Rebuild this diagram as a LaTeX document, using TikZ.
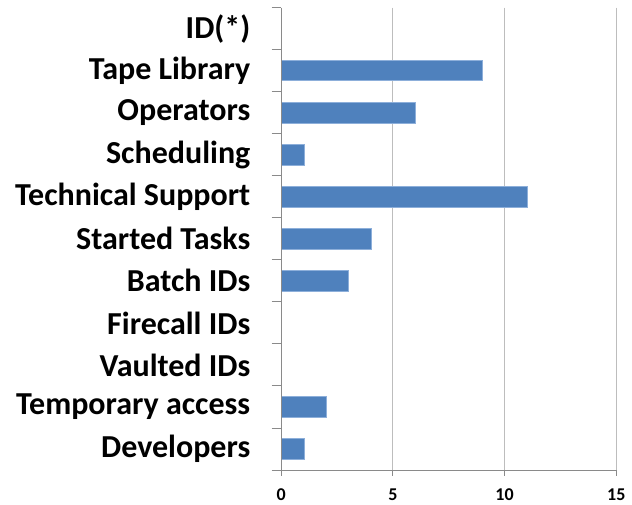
\documentclass[tikz,border=0pt]{standalone}
\usepackage{fontspec}
\setmainfont{Carlito}
\definecolor{barblue}{HTML}{4F81BD}
\definecolor{baredge}{HTML}{8DAFDA}
\definecolor{gridgray}{HTML}{BDBDBD}
\definecolor{axisgray}{HTML}{8A8A8A}
\tikzset{
  catlabel/.style={anchor=east, inner sep=0pt, font=\bfseries\fontsize{32}{32}\selectfont},
  numlabel/.style={anchor=center, inner sep=0pt, font=\bfseries\fontsize{18}{18}\selectfont},
  bar/.style={fill=barblue, draw=baredge, line width=0.8pt},
  gridline/.style={draw=gridgray, line width=1pt},
  axisline/.style={draw=axisgray, line width=1pt}
}
\begin{document}
\begin{tikzpicture}[x=1pt,y=-1pt]
\useasboundingbox (0,0) rectangle (632,504);
% gridlines
\foreach \v in {5,10,15}{
  \draw[gridline] ({281.3+\v*22.33},7.7) -- ({281.3+\v*22.33},470);
}
% category labels and bars
\foreach \i/\name/\val in {0/ID(*)/0,1/Tape Library/9,2/Operators/6,3/Scheduling/1,4/Technical Support/11,5/Started Tasks/4,6/Batch IDs/3,7/Firecall IDs/0,8/Vaulted IDs/0,9/Temporary access/2,10/Developers/1}{
  \pgfmathsetmacro{\yc}{7.7+42.03*\i+21.0}
  \node[catlabel] (lab\i) at (250.5,\yc) {\name};
  \ifnum\val>0
    \node[bar, minimum width={\val*22.33pt}, minimum height=20.3pt, inner sep=0pt, anchor=west] (bar\i) at (281.3,\yc) {};
  \fi
}
% axes
\draw[axisline] (281.3,7.7) -- (281.3,470) -- (616.3,470);
\foreach \i in {0,...,11}{
  \draw[axisline] (271.7,{7.7+42.03*\i}) -- (281.3,{7.7+42.03*\i});
}
\foreach \v in {5,10,15}{
  \draw[axisline] ({281.3+\v*22.33},470) -- ({281.3+\v*22.33},476);
}
\draw[axisline] (281.3,470) -- (281.3,476);
% numeric labels
\foreach \v in {0,5,10,15}{
  \node[numlabel] (num\v) at ({281.3+\v*22.33},494.7) {\v};
}
\end{tikzpicture}
\end{document}
